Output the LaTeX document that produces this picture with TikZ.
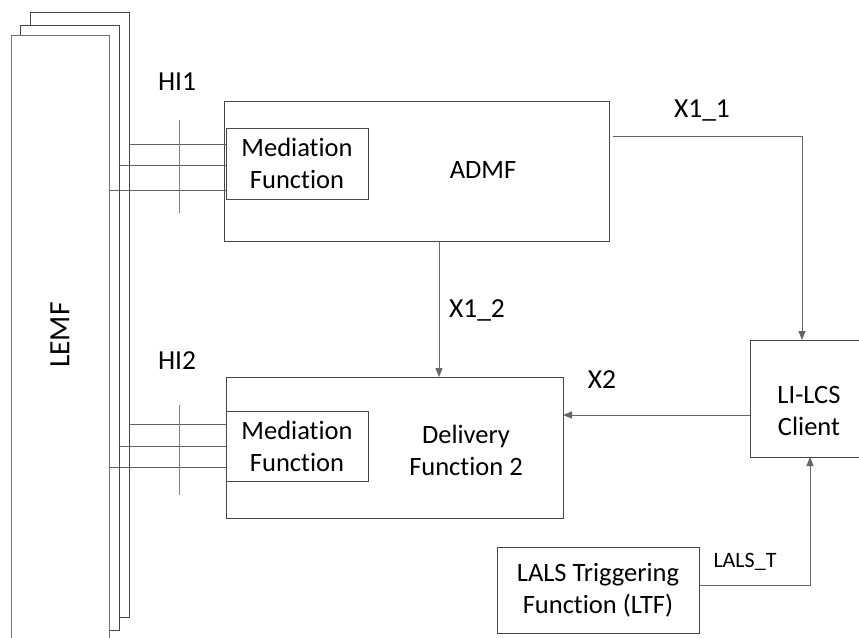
\documentclass[tikz,border=0pt]{standalone}
\usepackage{fontspec}
\setmainfont{Carlito}[Ligatures={NoCommon}]
\usetikzlibrary{arrows.meta,calc}
\begin{document}
\begin{tikzpicture}[x=1pt,y=-1pt,
  box/.style={draw=black!72,line width=0.9pt,fill=white,inner sep=0pt,outer sep=0pt},
  txt/.style={font=\fontsize{26.5}{32}\selectfont,align=center,inner sep=0pt},
  lbl/.style={font=\fontsize{27.5}{32}\selectfont,inner sep=0pt},
  conn/.style={draw=black!60,line width=0.9pt},
  arr/.style={conn,-{Triangle[length=9pt,width=7pt]}},
  hi/.style={draw=black!62,line width=0.8pt}]
\clip (0,0) rectangle (859,637);
\fill[white] (0,0) rectangle (859,637);
% LEMF stack
\node[box,minimum width=99pt,minimum height=605pt] (lemf3) at (79.5,314.5) {};
\node[box,minimum width=99pt,minimum height=605pt] (lemf2) at (69.5,327.5) {};
\node[box,draw=black!55,minimum width=98pt,minimum height=610pt] (lemf1) at (60,340) {};
\node[font=\fontsize{29.5}{32}\selectfont,rotate=90,inner sep=0pt] (lemft) at (60,335) {LEMF};
% ADMF
\node[box,minimum width=385pt,minimum height=140pt] (admf) at (416.5,171) {};
\node[txt] (admft) at (483,170) {ADMF};
\node[box,minimum width=142pt,minimum height=71pt,txt] (med1) at (297,163.5) {Mediation\\Function};
% Delivery
\node[box,minimum width=337pt,minimum height=141pt] (deliv) at (394.5,447.5) {};
\node[txt] (delivt) at (466,450) {Delivery\\Function 2};
\node[box,minimum width=142pt,minimum height=70pt,txt] (med2) at (297,446) {Mediation\\Function};
% LI-LCS
\node[box,minimum width=118pt,minimum height=117pt] (lics) at (809,398.5) {};
\node[txt] (licst) at (809,411) {LI-LCS\\Client};
% LALS
\node[box,minimum width=202pt,minimum height=86pt,txt] (lals) at (598,590) {LALS Triggering\\Function (LTF)};
% HI lines
\draw[hi] (lemf3.east |- 0,144) -- (med1.west |- 0,144);
\draw[hi] (lemf2.east |- 0,165) -- (med1.west |- 0,165);
\draw[hi] (lemf1.east |- 0,190) -- (med1.west |- 0,190);
\draw[hi,draw=black!50] (179,120) -- (179,213);
\draw[hi] (lemf3.east |- 0,424) -- (med2.west |- 0,424);
\draw[hi] (lemf2.east |- 0,446) -- (med2.west |- 0,446);
\draw[hi] (lemf1.east |- 0,467) -- (med2.west |- 0,467);
\draw[hi,draw=black!50] (179,405) -- (179,495);
\node[lbl] (hi1) at (177,82) {HI1};
\node[lbl] (hi2) at (177,361) {HI2};
% connectors
\coordinate (x11s) at ($(admf.north east)+(4,35)$);
\draw[arr] (x11s) -| (lics.north -| 802,0);
\node[lbl] (x11) at (702,110) {X1\_1};
\draw[arr] (admf.south -| 439,0) -- (deliv.north -| 439,0);
\node[lbl] (x12) at (477,310) {X1\_2};
\draw[arr] (lics.west |- 0,415) -- (deliv.east |- 0,415);
\node[lbl] (x2) at (602,380) {X2};
\draw[arr] (lals.east |- 0,585) -| (lics.south -| 810,0);
\node[font=\fontsize{22}{25}\selectfont,inner sep=0pt] (lalst) at (745,562) {LALS\_T};
\end{tikzpicture}
\end{document}
